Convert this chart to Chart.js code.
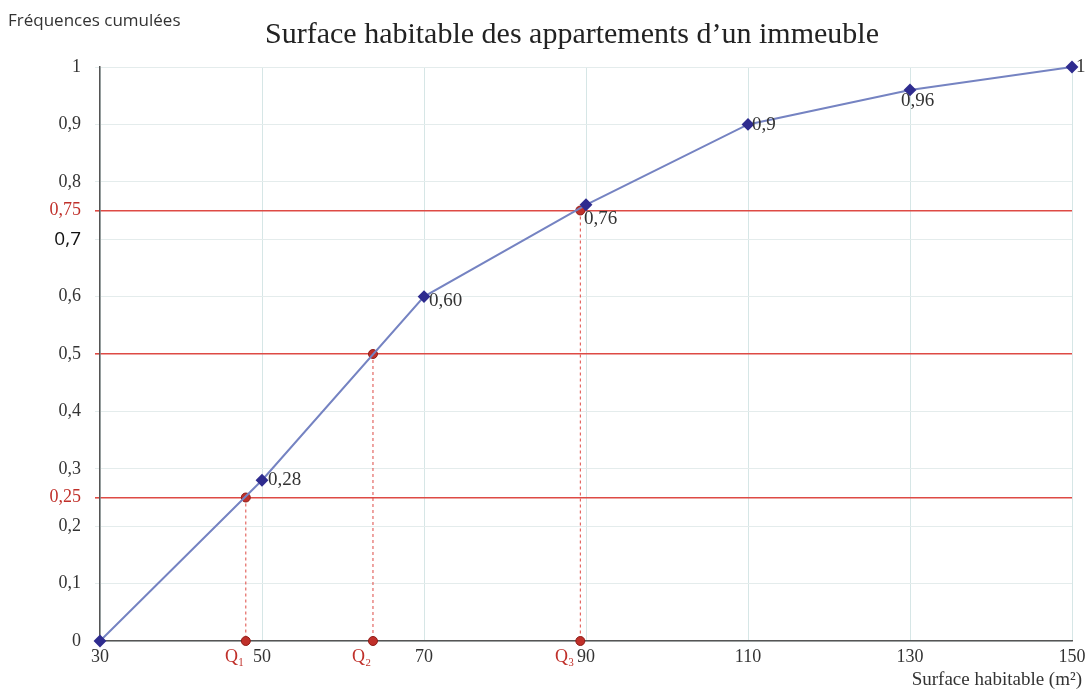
<!DOCTYPE html>
<html>
<head>
<meta charset="utf-8">
<script src="https://cdn.jsdelivr.net/npm/chart.js@4"></script>
<style>
  body { margin: 0; background: #fff; }
  .chart-container { position: relative; width: 1086px; height: 691px; }
</style>
</head>
<body>
<div class="chart-container">
  <canvas id="ogive"></canvas>
</div>
<script>
// data
const surfaces = [30, 50, 70, 90, 110, 130, 150];
const freqCumulees = [0, 0.28, 0.60, 0.76, 0.9, 0.96, 1];
const freqLabels = ['', '0,28', '0,60', '0,76', '0,9', '0,96', '1'];
const xTickValues = [30, 50, 70, 90, 110, 130, 150];
const yTickValues = [0, 0.1, 0.2, 0.25, 0.3, 0.4, 0.5, 0.6, 0.7, 0.75, 0.8, 0.9, 1];
const quartileNames = ['Q₁', 'Q₂', 'Q₃'];
const quartileLevels = [0.25, 0.5, 0.75];
const quartileValues = [48, 63.7, 89.3];

const RED = '#de4a44';
const SERIF = "'Liberation Serif', 'DejaVu Serif', serif";

// label offsets for the point values (dx, dy), and left shift of Q labels
const labelOffsets = [[0, 0], [6, 0], [5, 4], [-2, 14], [4, 1], [-9, 11], [4, 0]];
const quartilePad = [5, 5, 7];

const textPlugin = {
    id: 'texts',
    afterDatasetsDraw(chart) {
        const ctx = chart.ctx;
        const meta = chart.getDatasetMeta(0);
        ctx.save();
        ctx.font = '19px ' + SERIF;
        ctx.fillStyle = '#333';
        ctx.textBaseline = 'middle';
        ctx.textAlign = 'left';
        meta.data.forEach((pt, i) => {
            if (!freqLabels[i]) return;
            ctx.fillText(freqLabels[i], pt.x + labelOffsets[i][0], pt.y + labelOffsets[i][1]);
        });
        ctx.restore();
    },
    afterDraw(chart) {
        const ctx = chart.ctx;
        ctx.save();
        ctx.fillStyle = '#222';
        ctx.textBaseline = 'middle';
        ctx.textAlign = 'center';
        ctx.font = '30px ' + SERIF;
        ctx.fillText('Surface habitable des appartements d’un immeuble', 572, 35);

        ctx.fillStyle = '#333';
        ctx.textAlign = 'left';
        ctx.font = "17px 'Open Sans', sans-serif";
        ctx.fillText('Fréquences cumulées', 8, 21);

        ctx.textAlign = 'right';
        ctx.font = '19px ' + SERIF;
        ctx.fillText('Surface habitable (m²)', 1082, 680);
        ctx.restore();
    }
};

const datasets = [{
    data: surfaces.map((x, i) => ({ x, y: freqCumulees[i] })),
    borderColor: '#7583c2',
    borderWidth: 2,
    pointStyle: 'rectRot',
    pointRadius: 5,
    pointBackgroundColor: '#2f2c8f',
    pointBorderColor: '#2f2c8f',
    clip: false,
    order: 0
}];

quartileValues.forEach((q, i) => {
    datasets.push({
        data: [{ x: q, y: quartileLevels[i] }, { x: q, y: 0 }],
        borderColor: RED,
        borderWidth: 1,
        borderDash: [3, 3],
        pointStyle: 'circle',
        pointRadius: 4.5,
        pointBackgroundColor: '#c0302a',
        pointBorderColor: '#8e1c18',
        pointBorderWidth: 1,
        clip: false,
        order: 1
    });
});

new Chart(document.getElementById('ogive'), {
    type: 'line',
    data: { datasets },
    options: {
        responsive: true,
        maintainAspectRatio: false,
        animation: false,
        layout: { padding: { top: 67, right: 14, bottom: 0, left: 0 } },
        plugins: {
            legend: { display: false },
            tooltip: { enabled: false }
        },
        scales: {
            x: {
                type: 'linear',
                min: 30,
                max: 150,
                afterBuildTicks: (scale) => {
                    scale.ticks = [...xTickValues, ...quartileValues]
                        .sort((a, b) => a - b)
                        .map(v => ({ value: v }));
                },
                afterFit: (scale) => {
                    scale.height = 50;
                    scale.paddingRight = 0;
                    scale.paddingLeft = 0;
                },
                border: { color: '#555', width: 1.5 },
                grid: {
                    drawTicks: false,
                    color: (c) => quartileValues.includes(c.tick.value) ? 'rgba(0,0,0,0)' : '#d6e6e6'
                },
                ticks: {
                    autoSkip: false,
                    maxRotation: 0,
                    padding: 5,
                    font: { family: SERIF, size: 18 },
                    color: (c) => quartileValues.includes(c.tick.value) ? '#c0302a' : '#333',
                    callback: (v) => {
                        const qi = quartileValues.indexOf(v);
                        return qi >= 0 ? quartileNames[qi] + ' '.repeat(quartilePad[qi]) : String(v);
                    }
                }
            },
            y: {
                type: 'linear',
                min: 0,
                max: 1,
                afterBuildTicks: (scale) => {
                    scale.ticks = yTickValues.map(v => ({ value: v }));
                },
                afterFit: (scale) => { scale.width = 100; },
                border: { color: '#555', width: 1.5 },
                grid: {
                    tickLength: 5,
                    color: (c) => quartileLevels.includes(c.tick.value) ? RED : '#e4ecec',
                    lineWidth: (c) => quartileLevels.includes(c.tick.value) ? 1.6 : 1
                },
                ticks: {
                    autoSkip: false,
                    padding: 14,
                    font: (c) => c.tick && c.tick.value === 0.7
                        ? { family: "'Open Sans', sans-serif", size: 19, weight: '500' }
                        : { family: SERIF, size: 18 },
                    color: (c) => (c.tick.value === 0.25 || c.tick.value === 0.75) ? '#c0302a'
                        : (c.tick.value === 0.7 ? '#111' : '#333'),
                    callback: (v) => String(v).replace('.', ',')
                }
            }
        }
    },
    plugins: [textPlugin]
});
</script>
</body>
</html>
